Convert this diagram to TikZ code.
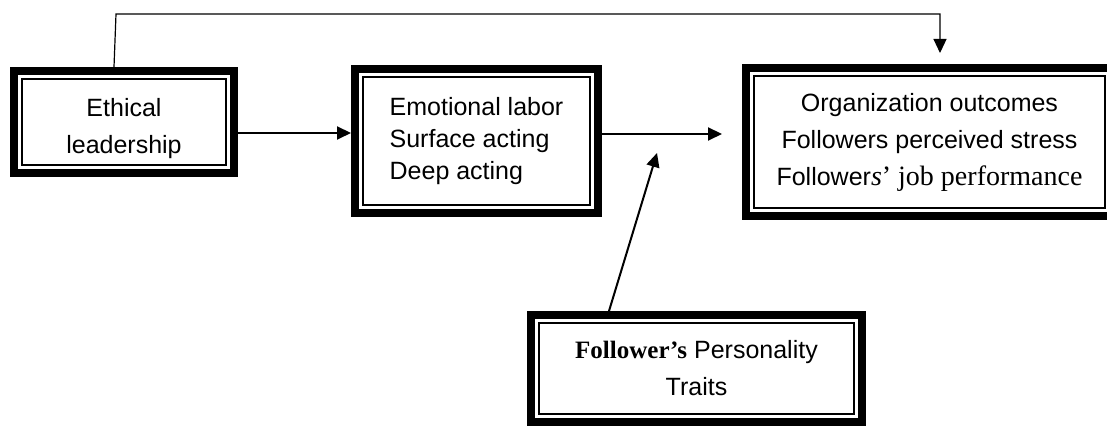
\documentclass[tikz,border=0pt]{standalone}
\usepackage{fontspec}
\setmainfont{Liberation Sans}
\newfontfamily\serifpart{Liberation Serif}
\usetikzlibrary{arrows.meta}

\begin{document}
\begin{tikzpicture}[x=.5pt,y=-.5pt,font=\fontsize{12.5}{18.5}\selectfont,
  framebox/.style={draw,line width=4pt,inner sep=0pt,align=center},
  arr/.style={-{Triangle[length=7pt,width=6.5pt]},line width=1pt}]
  \useasboundingbox (0,0) rectangle (1107,426);
  \clip (0,0) rectangle (1107,426);
  \node[framebox,minimum width=110pt,minimum height=51pt] (ethic) at (124,122) {\rule{0pt}{16pt}Ethical\\leadership};
  \node[framebox,align=left,minimum width=121.5pt,minimum height=72pt,font=\fontsize{12.5}{16}\selectfont] (emo) at (476.5,141) {Emotional labor\\Surface acting\\Deep acting};
  \node[framebox,minimum width=183.5pt,minimum height=74pt] (outc) at (929.5,142) {Organization outcomes\\Followers perceived stress\\Follower{\serifpart\fontsize{14}{18.5}\selectfont\itshape s}{\serifpart\fontsize{14}{18.5}\selectfont’ job performance}};
  \node[framebox,minimum width=165.5pt,minimum height=53.5pt] (pers) at (696.5,368.5) {{\serifpart\bfseries Follower’s} Personality\\Traits};
  % thin inner frames
  \foreach \n in {ethic,emo,outc,pers}
    \draw[line width=1pt] ([shift={(6pt,-6pt)}]\n.north west) rectangle ([shift={(-6pt,6pt)}]\n.south east);
  % arrows
  \coordinate (lvl) at (0,133);
  \coordinate (gap) at (722,134);
  \coordinate (modtip) at (657,153);
  \coordinate (modfoot) at (609,0);
  \coordinate (loopfoot) at (114,0);
  \coordinate (rise) at (116,14);
  \coordinate (drop) at (940,53);
  \draw[arr] (ethic.east |- lvl) -- (emo.west |- lvl);
  \draw[arr] (emo.east |- gap) -- (gap);
  \draw[arr] (pers.north -| modfoot) -- (modtip);
  \draw[arr,line width=.6pt] (ethic.north -| loopfoot) -- (rise) -| (drop);
\end{tikzpicture}
\end{document}
